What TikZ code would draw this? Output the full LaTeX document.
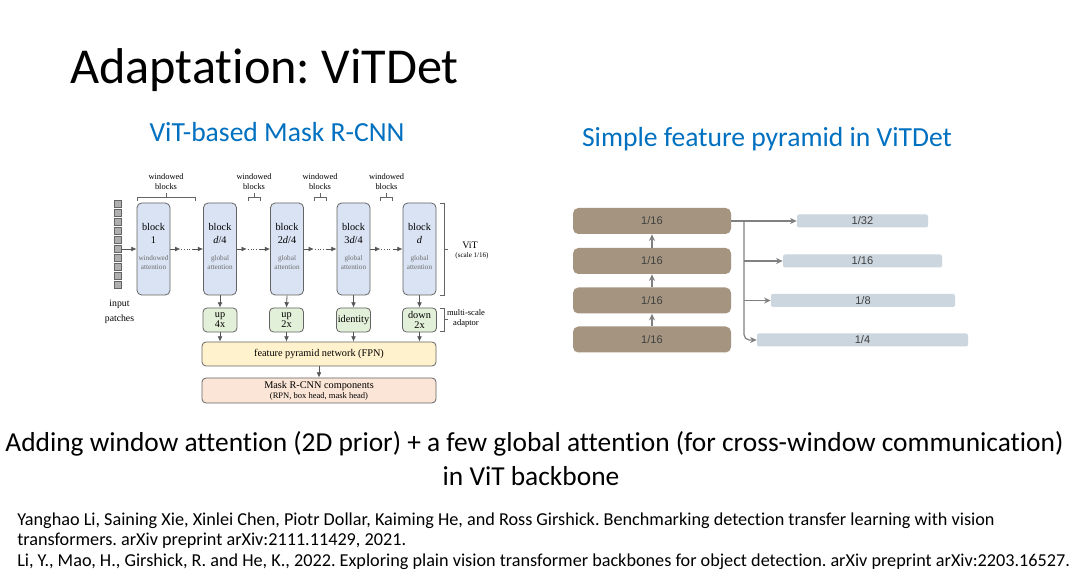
\documentclass[tikz,border=0pt]{standalone}
\usepackage{fontspec}
\setmainfont{Carlito}[Ligatures=NoCommon]
\newfontfamily\timesf{Liberation Serif}
\newfontfamily\arialf{Liberation Sans}
\usetikzlibrary{arrows.meta,calc}
\frenchspacing
\definecolor{blkfill}{RGB}{218,227,243}
\definecolor{adpfill}{RGB}{226,240,217}
\definecolor{fpnfill}{RGB}{255,242,204}
\definecolor{maskfill}{RGB}{251,229,214}
\definecolor{bord}{RGB}{100,100,100}
\definecolor{arrg}{RGB}{85,85,85}
\definecolor{subgray}{RGB}{110,110,110}
\definecolor{sqfill}{RGB}{175,175,175}
\definecolor{fpbrown}{RGB}{165,149,128}
\definecolor{barblue}{RGB}{204,214,222}
\definecolor{conn}{RGB}{128,128,128}
\definecolor{ttlblue}{RGB}{0,112,192}
\definecolor{numtxt}{RGB}{64,64,64}
\tikzset{
  blk/.style={draw=bord, fill=blkfill, rounded corners=3.5pt, minimum width=24.75pt, minimum height=69pt, inner sep=0pt, line width=0.6pt},
  btop/.style={font=\timesf\fontsize{7.7}{9.75}\selectfont, align=center, inner sep=0pt},
  bbot/.style={font=\timesf\fontsize{5.4}{6.75}\selectfont, text=subgray, align=center, inner sep=0pt},
  adp/.style={draw=bord, fill=adpfill, rounded corners=3pt, minimum width=25.5pt, minimum height=18pt, inner sep=0pt, line width=0.6pt, align=center, font=\timesf\fontsize{7.7}{7.5}\selectfont},
  wide/.style={draw=bord, rounded corners=3pt, minimum width=175.5pt, inner sep=0pt, line width=0.6pt, align=center, font=\timesf\fontsize{7.7}{7.5}\selectfont},
  sq/.style={draw=bord, fill=sqfill, minimum size=5.25pt, inner sep=0pt, line width=0.5pt},
  garr/.style={draw=arrg, line width=0.6pt, -{Latex[length=4pt,width=3.6pt]}},
  dotl/.style={draw=arrg, line width=0.6pt, dash pattern=on 0.8pt off 1.2pt},
  brk/.style={draw=bord, line width=0.5pt},
  lbl/.style={font=\timesf\fontsize{6.3}{7.5}\selectfont, align=center, inner sep=0pt},
  fp/.style={fill=fpbrown, rounded corners=4pt, minimum width=118.5pt, minimum height=19.5pt, inner sep=0pt, font=\arialf\fontsize{8.3}{10}\selectfont, text=numtxt},
  bar/.style={fill=barblue, rounded corners=1.5pt, minimum height=9.75pt, inner sep=0pt, font=\arialf\fontsize{8.3}{10}\selectfont, text=numtxt},
  rarr/.style={draw=conn, line width=0.9pt, -{Stealth[length=5pt,width=4.5pt]}},
  heading/.style={anchor=base, inner sep=0pt, text=ttlblue, font=\fontsize{20.7}{24}\selectfont},
  bodytxt/.style={anchor=base, inner sep=0pt, font=\fontsize{20.55}{25}\selectfont},
  reftxt/.style={anchor=base west, inner sep=0pt, font=\fontsize{13.65}{16}\selectfont},
}
\begin{document}
\begin{tikzpicture}[x=0.75pt,y=-0.75pt]
\useasboundingbox (0,0) rectangle (1080,580);
\fill[white] (0,0) rectangle (1080,580);

% titles
\node[anchor=base, inner sep=0pt, font=\fontsize{37.7}{45}\selectfont] (title) at (264.5,84) {Adaptation: ViTDet};
\node[heading] (st1) at (277,142) {ViT-based Mask R-CNN};
\node[heading] (st2) at (767,146.5) {Simple feature pyramid in ViTDet};

% input patches
\foreach \k in {0,...,9} \node[sq] (sq\k) at (117.5,{204+9*\k}) {};
\node[lbl, font=\timesf\fontsize{7.3}{11}\selectfont] (inp) at (119.5,311.5) {input\\patches};

% blocks
\node[blk] (b1) at (153.5,249) {};
\node[blk] (b2) at (220,249) {};
\node[blk] (b3) at (287,249) {};
\node[blk] (b4) at (353.5,249) {};
\node[blk] (b5) at (419.5,249) {};
\node[btop] (b1a) at (153.5,233.5) {block\\1};
\node[bbot] (b1b) at (153.5,262.5) {windowed\\attention};
\node[btop] (b2a) at (220,233.5) {block\\\textit{d}/4};
\node[bbot] (b2b) at (220,262.5) {global\\attention};
\node[btop] (b3a) at (287,233.5) {block\\2\textit{d}/4};
\node[bbot] (b3b) at (287,262.5) {global\\attention};
\node[btop] (b4a) at (353.5,233.5) {block\\3\textit{d}/4};
\node[bbot] (b4b) at (353.5,262.5) {global\\attention};
\node[btop] (b5a) at (419.5,233.5) {block\\\textit{d}};
\node[bbot] (b5b) at (419.5,262.5) {global\\attention};

\draw[garr] (sq5.east) -- (b1.west |- sq5.east);
\foreach \a/\b in {b1/b2,b2/b3,b3/b4,b4/b5}{
  \draw[garr] (\a.east) -- ++(10,0);
  \draw[dotl] ($(\a.east)+(11,0)$) -- ($(\b.west)+(-11,0)$);
  \draw[garr] ($(\b.west)+(-10,0)$) -- (\b.west);
}

% windowed blocks brackets
\draw[brk] (137,201) -- (137,197) -- (195,197) -- (195,201);
\draw[brk] (166,197) -- (166,193);
\node[lbl] (wb1) at (166,182) {windowed\\blocks};
\foreach \c/\n in {254/wb2,320/wb3,386.5/wb4}{
  \draw[brk] (\c-6,201) -- (\c-6,197) -- (\c+6,197) -- (\c+6,201);
  \draw[brk] (\c,197) -- (\c,193);
  \node[lbl] (\n) at (\c,182) {windowed\\blocks};
}

% ViT bracket
\draw[brk] (440,203) -- (444,203) -- (444,295) -- (440,295);
\draw[brk] (444,249) -- (448,249);
\node[inner sep=0pt, font=\timesf\fontsize{7.5}{9}\selectfont] (vit) at (470,245) {ViT};
\node[inner sep=0pt, font=\timesf\fontsize{5.3}{6}\selectfont] (vits) at (472,256) {(scale 1/16)};

% adaptors
\node[adp] (a1) at (220,320) {up\\4x};
\node[adp] (a2) at (286.5,320) {up\\2x};
\node[adp] (a3) at (353.5,320) {identity};
\node[adp] (a4) at (419.5,320) {down\\2x};
\foreach \b/\a in {b2/a1,b3/a2,b4/a3,b5/a4} \draw[garr] (\b.south) -- (\a.north);

\draw[brk] (440,308) -- (444,308) -- (444,331) -- (440,331);
\draw[brk] (444,319.5) -- (448,319.5);
\node[lbl, font=\timesf\fontsize{6.4}{7.5}\selectfont] (msa) at (466,318) {multi-scale\\adaptor};

% FPN and Mask R-CNN
\node[wide, fill=fpnfill, minimum height=18pt] (fpn) at (319,354) {feature pyramid network (FPN)};
\foreach \a in {a1,a2,a3,a4} \draw[garr] (\a.south) -- (\a.south |- fpn.north);
\node[wide, fill=maskfill, minimum height=18.75pt] (mask) at (319,390.5) {Mask R-CNN components\\{\fontsize{6.4}{7.5}\selectfont (RPN, box head, mask head)}};
\draw[garr] (fpn.south) -- (mask.north);

% simple feature pyramid
\node[fp] (f1) at (652,221) {1/16};
\node[fp] (f2) at (652,261) {1/16};
\node[fp] (f3) at (652,300.5) {1/16};
\node[fp] (f4) at (652,339.5) {1/16};
\draw[rarr] (f4.north) -- (f3.south);
\draw[rarr] (f3.north) -- (f2.south);
\draw[rarr] (f2.north) -- (f1.south);
\node[bar, minimum width=98.25pt] (s1) at (862.5,221) {1/32};
\node[bar, minimum width=119.25pt] (s2) at (862.5,261) {1/16};
\node[bar, minimum width=138pt] (s3) at (863,300.5) {1/8};
\node[bar, minimum width=158.25pt] (s4) at (862.5,340) {1/4};
\coordinate (jn) at (744,221);
\draw[rarr] (f1.east) -- (s1.west);
\draw[rarr, rounded corners=4pt] (jn) |- (s4.west);
\draw[rarr] (jn |- s2.west) -- (s2.west);
\draw[rarr] (jn |- s3.west) -- (s3.west);

% body text
\node[bodytxt] (l1) at (534.5,451) {Adding window attention (2D prior) + a few global attention (for cross-window communication)};
\node[bodytxt] (l2) at (531,485) {in ViT backbone};

% references
\node[reftxt] (r1) at (17,525) {Yanghao Li, Saining Xie, Xinlei Chen, Piotr Dollar, Kaiming He, and Ross Girshick. Benchmarking detection transfer learning with vision};
\node[reftxt] (r2) at (17,545.5) {transformers. arXiv preprint arXiv:2111.11429, 2021.};
\node[reftxt] (r3) at (17,566.5) {Li, Y., Mao, H., Girshick, R. and He, K., 2022. Exploring plain vision transformer backbones for object detection. arXiv preprint arXiv:2203.16527.};
\end{tikzpicture}
\end{document}
